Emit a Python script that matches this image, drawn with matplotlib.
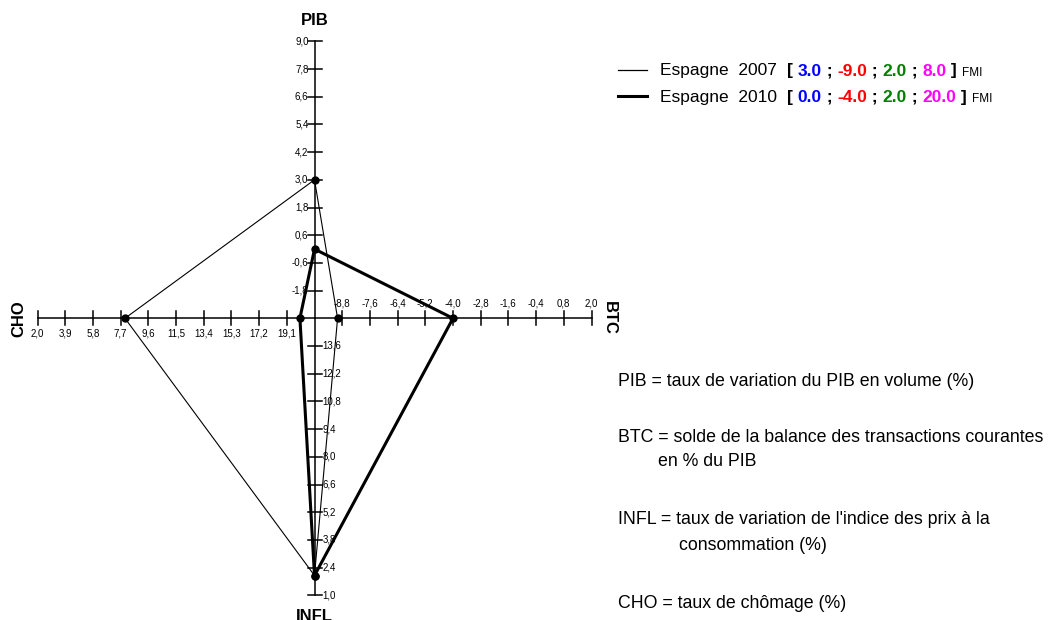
import matplotlib
matplotlib.use("Agg")
import matplotlib.pyplot as plt
import numpy as np

plt.rcParams['font.family'] = ['Liberation Sans', 'DejaVu Sans']

# ---------------- data ----------------
axis_names = ["PIB", "BTC", "INFL", "CHO"]
axis_centre_value = [-3.0, -10.0, 15.0, 21.0]   # value at the centre of the chart
axis_outer_value = [9.0, 2.0, 1.0, 2.0]         # value at the outer end of each axis
n_ticks = 10

series_names = ["Espagne  2007", "Espagne  2010"]
values_2007 = [3.0, -9.0, 2.0, 8.0]
values_2010 = [0.0, -4.0, 2.0, 20.0]
value_colors = ["#0000ff", "#ff0000", "#008000", "#ff00ff"]
source_label = "FMI"

definitions = [
    ("PIB = taux de variation du PIB en volume (%)", None),
    ("BTC = solde de la balance des transactions courantes", "en % du PIB"),
    ("INFL = taux de variation de l'indice des prix à la", "consommation (%)"),
    ("CHO = taux de chômage (%)", None),
]

# ---------------- layout ----------------
W, H = 1053, 620
fig = plt.figure(figsize=(W / 100, H / 100), dpi=100)
cx, cy, R = 314.5, 318.3, 277.0
ax = fig.add_axes([(cx - R) / W, (H - cy - R) / H, 2 * R / W, 2 * R / H])
ax.set_xlim(-1, 1)
ax.set_ylim(-1, 1)
ax.axis("off")

directions = [(0, 1), (1, 0), (0, -1), (-1, 0)]
tick_half = 7.0 / R


def norm(i, v):
    return (v - axis_centre_value[i]) / (axis_outer_value[i] - axis_centre_value[i])


def fmt(v):
    return f"{v:.1f}".replace(".", ",")


px = 0.72  # points per pixel
label_cfg = {
    0: dict(ha="right", va="center", off=(-6 * px, 0)),
    1: dict(ha="center", va="center", off=(0, 15 * px)),
    2: dict(ha="left", va="center", off=(8 * px, 0)),
    3: dict(ha="center", va="center", off=(0, -15 * px)),
}
title_cfg = {
    0: dict(off=(0, 21 * px), rot=0),
    1: dict(off=(18 * px, 0), rot=270),
    2: dict(off=(0, -21 * px), rot=0),
    3: dict(off=(-19 * px, 0), rot=90),
}

for i, name in enumerate(axis_names):
    dx, dy = directions[i]
    ax.plot([0, dx], [0, dy], color="black", lw=1.1, clip_on=False, zorder=1)
    step = (axis_outer_value[i] - axis_centre_value[i]) / n_ticks
    for k in range(1, n_ticks + 1):
        v = axis_centre_value[i] + k * step
        r = norm(i, v)
        x, y = dx * r, dy * r
        # perpendicular tick
        ax.plot([x - dy * tick_half, x + dy * tick_half],
                [y - dx * tick_half, y + dx * tick_half],
                color="black", lw=1.1, clip_on=False, zorder=1)
        c = label_cfg[i]
        ax.annotate(fmt(v), (x, y), xytext=c["off"], textcoords="offset points",
                    ha=c["ha"], va=c["va"], fontsize=7, color="black",
                    annotation_clip=False)
    t = title_cfg[i]
    ax.annotate(name, (dx, dy), xytext=t["off"], textcoords="offset points",
                ha="center", va="center", fontsize=12, fontweight="bold",
                rotation=t["rot"], annotation_clip=False)

series = [values_2007, values_2010]
widths = [0.8, 2.2]
for vals, lw in zip(series, widths):
    xs = [directions[i][0] * norm(i, v) for i, v in enumerate(vals)]
    ys = [directions[i][1] * norm(i, v) for i, v in enumerate(vals)]
    ax.plot(xs + xs[:1], ys + ys[:1], color="black", lw=lw, clip_on=False, zorder=2)
    ax.plot(xs, ys, "o", color="black", ms=5, clip_on=False, zorder=3)

# ---------------- legend ----------------
fig.canvas.draw()
renderer = fig.canvas.get_renderer()


def fx(x):
    return x / W


def fy(y):
    return 1 - y / H


def draw_pieces(x0, y_base, pieces):
    x = x0
    for text, color, weight, size in pieces:
        t = fig.text(fx(x), fy(y_base), text, color=color, fontweight=weight,
                     fontsize=size, ha="left", va="baseline")
        bb = t.get_window_extent(renderer=renderer)
        x += bb.width


legend_y = [69.5, 96]
for s, (name, vals, lw) in enumerate(zip(series_names, series, widths)):
    y = legend_y[s]
    fig.add_artist(plt.Line2D([fx(618), fx(647)], [fy(y), fy(y)], color="black",
                              lw=lw if lw > 1 else 0.9))
    pieces = [(name + "  ", "black", "normal", 12.5), ("[ ", "black", "bold", 12.5)]
    for j, v in enumerate(vals):
        pieces.append((f"{v:.1f}", value_colors[j], "bold", 12.5))
        pieces.append((" ; " if j < len(vals) - 1 else " ] ", "black", "bold", 12.5))
    pieces.append((source_label, "black", "normal", 8.5))
    draw_pieces(660, y + 6, pieces)

# ---------------- definitions ----------------
def_y = [(382, None), (437, 462), (520, 546), (603, None)]
cont_x = [None, 658, 679, None]
for (first, second), (y1, y2), x2 in zip(definitions, def_y, cont_x):
    fig.text(fx(618), fy(y1), first, fontsize=12.8, ha="left", va="center")
    if second:
        fig.text(fx(x2), fy(y2), second, fontsize=12.8, ha="left", va="center")

fig.savefig("out.png", dpi=100, facecolor="white")
